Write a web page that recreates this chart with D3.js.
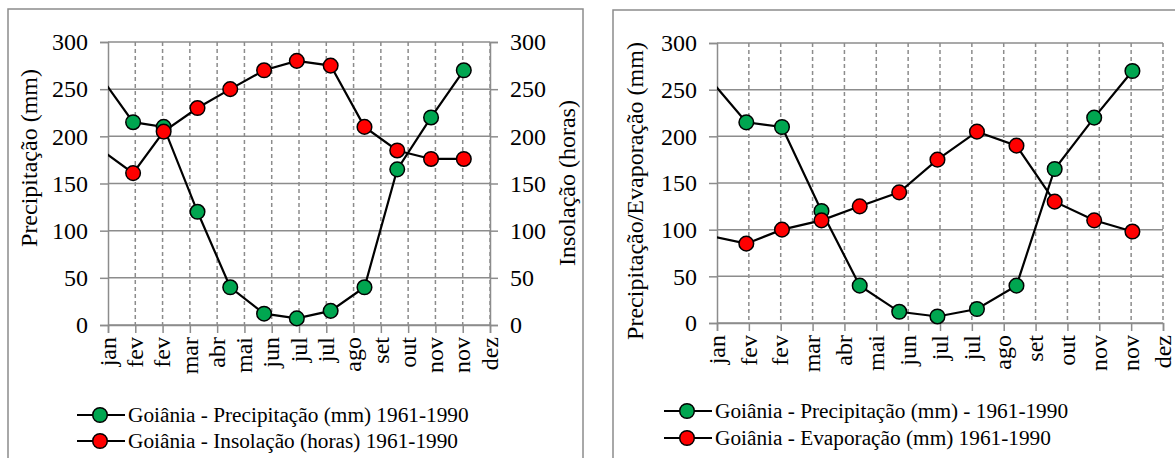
<!DOCTYPE html>
<html>
<head>
<meta charset="utf-8">
<script src="https://cdnjs.cloudflare.com/ajax/libs/d3/7.8.5/d3.min.js"></script>
<style>
  body { margin: 0; background: #fff; }
</style>
</head>
<body>
<div class="chart"></div>
<script>
// day of year (jan 1 = 0) for each monthly point
var monthDays = [0, 31, 59, 90, 120, 151, 181, 212, 243, 273, 304, 334];
var precip = [265, 215, 210, 120, 40, 12, 7, 15, 40, 165, 220, 270];
var insolacao = [187, 161, 205, 230, 250, 270, 280, 275, 210, 185, 176, 176];
var evaporacao = [94, 85, 100, 110, 125, 140, 175, 205, 190, 130, 110, 98];

// date axis: starts on jan 9, a tick every 25 days
var tickStart = 8;
var tickStep = 25;
var tickLabels = ["jan", "fev", "fev", "mar", "abr", "mai", "jun", "jul", "jul",
  "ago", "set", "out", "nov", "nov", "dez"];
var yTicks = [0, 50, 100, 150, 200, 250, 300];

var svgWidth = 1175;
var svgHeight = 458;

var fontFam = "'Liberation Serif', 'Times New Roman', serif";
var gridColor = "#8c8c8c";
var green = "#00a650";
var red = "#ff0000";

var svg = d3.select(".chart")
  .append("svg")
  .attr("width", svgWidth)
  .attr("height", svgHeight);

var tickDays = tickLabels.map((d, i) => tickStart + i * tickStep);

function setFont(sel, size) {
  sel.style("font-family", fontFam)
    .style("font-size", (size || 24) + "px")
    .attr("fill", "#000");
}

function drawChart(opt) {
  var g = svg.append("g");

  // panel frame
  g.append("rect")
    .attr("x", opt.frame[0])
    .attr("y", opt.frame[1])
    .attr("width", opt.frame[2])
    .attr("height", opt.frame[3])
    .attr("fill", "none")
    .attr("stroke", gridColor)
    .attr("stroke-width", 1.5);

  var x = d3.scaleLinear()
    .domain([tickDays[0], tickDays[tickDays.length - 1]])
    .range([opt.left, opt.right]);
  var y = d3.scaleLinear()
    .domain([0, 300])
    .range([opt.bottom, opt.top]);

  // horizontal grid
  g.append("g").selectAll("line")
    .data(yTicks)
    .enter()
    .append("line")
    .attr("x1", opt.left)
    .attr("x2", opt.right)
    .attr("y1", d => y(d))
    .attr("y2", d => y(d))
    .attr("stroke", gridColor)
    .attr("stroke-width", 1.5);

  // vertical dashed grid
  g.append("g").selectAll("line")
    .data(tickDays.slice(1))
    .enter()
    .append("line")
    .attr("x1", d => x(d))
    .attr("x2", d => x(d))
    .attr("y1", opt.top)
    .attr("y2", opt.bottom)
    .attr("stroke", gridColor)
    .attr("stroke-width", 1.5)
    .attr("stroke-dasharray", "4,3");

  // left axis
  var leftAxis = d3.axisLeft(y).tickValues(yTicks).tickSize(8).tickPadding(12);
  var la = g.append("g")
    .attr("transform", `translate(${opt.left}, 0)`)
    .call(leftAxis);
  styleAxis(la);

  if (opt.rightAxis) {
    var rightAxis = d3.axisRight(y).tickValues(yTicks).tickSize(8).tickPadding(12);
    var ra = g.append("g")
      .attr("transform", `translate(${opt.right}, 0)`)
      .call(rightAxis);
    styleAxis(ra);
  }

  // bottom axis
  var bottomAxis = d3.axisBottom(x)
    .tickValues(tickDays)
    .tickSize(8)
    .tickFormat((d, i) => tickLabels[i]);
  var ba = g.append("g")
    .attr("transform", `translate(0, ${opt.bottom})`)
    .call(bottomAxis);
  styleAxis(ba);
  ba.selectAll("text")
    .attr("transform", "rotate(-90)")
    .attr("text-anchor", "end")
    .attr("x", -12)
    .attr("y", 0)
    .attr("dy", "0.3em");

  // axis titles
  g.append("text")
    .attr("transform", `translate(${opt.titleX}, ${opt.titleY}) rotate(-90)`)
    .attr("text-anchor", "middle")
    .attr("dy", "0.35em")
    .text(opt.title)
    .call(setFont, 24);
  if (opt.rightTitle) {
    g.append("text")
      .attr("transform", `translate(${opt.rightTitleX}, ${opt.rightTitleY}) rotate(-90)`)
      .attr("text-anchor", "middle")
      .attr("dy", "0.35em")
      .text(opt.rightTitle)
      .call(setFont, 24);
  }

  // clip lines to the plot area
  var clipId = "clip-" + opt.name;
  g.append("clipPath")
    .attr("id", clipId)
    .append("rect")
    .attr("x", opt.left)
    .attr("y", opt.top - 10)
    .attr("width", opt.right - opt.left)
    .attr("height", opt.bottom - opt.top + 20);

  var line = d3.line()
    .x(d => x(d[0]))
    .y(d => y(d[1]));

  opt.series.forEach(function(s) {
    var pts = monthDays.map((d, i) => [d, s.values[i]]);
    g.append("path")
      .datum(pts)
      .attr("clip-path", `url(#${clipId})`)
      .attr("fill", "none")
      .attr("stroke", "#000")
      .attr("stroke-width", 2.2)
      .attr("d", line);
  });

  opt.series.forEach(function(s) {
    var pts = monthDays.map((d, i) => [d, s.values[i]]).filter(d => d[0] >= tickDays[0]);
    g.append("g").selectAll("circle")
      .data(pts)
      .enter()
      .append("circle")
      .attr("cx", d => x(d[0]))
      .attr("cy", d => y(d[1]))
      .attr("r", 7.3)
      .attr("fill", s.color)
      .attr("stroke", "#000")
      .attr("stroke-width", 1.5);
  });

  // legend
  var legend = g.append("g");
  opt.series.forEach(function(s, i) {
    var ly = opt.legendY + i * opt.legendGap;
    legend.append("line")
      .attr("x1", opt.legendX)
      .attr("x2", opt.legendX + 48)
      .attr("y1", ly)
      .attr("y2", ly)
      .attr("stroke", "#000")
      .attr("stroke-width", 2.2);
    legend.append("circle")
      .attr("cx", opt.legendX + 23)
      .attr("cy", ly)
      .attr("r", 7.3)
      .attr("fill", s.color)
      .attr("stroke", "#000")
      .attr("stroke-width", 1.5);
    legend.append("text")
      .attr("x", opt.legendX + 51)
      .attr("y", ly)
      .attr("dy", "0.33em")
      .text(s.label)
      .call(setFont, 21.3);
  });
}

function styleAxis(a) {
  a.select(".domain").attr("stroke", gridColor).attr("stroke-width", 1.5);
  a.selectAll(".tick line").attr("stroke", gridColor).attr("stroke-width", 1.5);
  a.selectAll("text").call(setFont, 24);
}

drawChart({
  name: "left",
  frame: [8, 9, 575, 470],
  left: 108, right: 490, top: 42, bottom: 325,
  title: "Precipitação (mm)", titleX: 29, titleY: 158,
  rightAxis: true,
  rightTitle: "Insolação (horas)", rightTitleX: 567, rightTitleY: 183,
  legendX: 77, legendY: 415, legendGap: 26,
  series: [
    { label: "Goiânia - Precipitação (mm) 1961-1990", values: precip, color: green },
    { label: "Goiânia - Insolação (horas) 1961-1990", values: insolacao, color: red }
  ]
});

drawChart({
  name: "right",
  frame: [613, 10, 580, 470],
  left: 717, right: 1163, top: 43, bottom: 323,
  title: "Precipitação/Evaporação (mm)", titleX: 635, titleY: 191,
  rightAxis: false,
  legendX: 664, legendY: 411, legendGap: 27,
  series: [
    { label: "Goiânia - Precipitação (mm) - 1961-1990", values: precip, color: green },
    { label: "Goiânia - Evaporação (mm) 1961-1990", values: evaporacao, color: red }
  ]
});
</script>
</body>
</html>
